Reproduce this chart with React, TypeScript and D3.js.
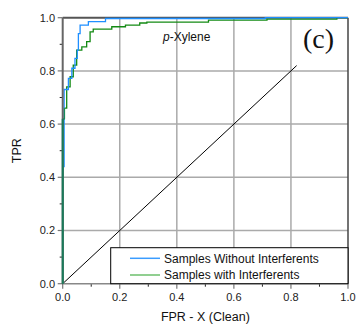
import React from "react";
import * as d3 from "d3";

const blueFpr = [0, 0, 0.005, 0.02, 0.032, 0.043, 0.051, 0.055, 0.061, 0.09, 0.15, 0.71, 1];
const blueTpr = [0, 0.44, 0.73, 0.772, 0.81, 0.847, 0.878, 0.94, 0.972, 0.985, 0.997, 1.0, 1];
const greenFpr = [0, 0, 0.006, 0.014, 0.026, 0.037, 0.049, 0.067, 0.084, 0.096, 0.107, 0.172, 0.22, 0.27, 0.295, 0.511, 0.716, 0.961, 1];
const greenTpr = [0, 0.62, 0.66, 0.74, 0.778, 0.822, 0.878, 0.89, 0.91, 0.947, 0.957, 0.966, 0.972, 0.98, 0.983, 0.991, 0.995, 1.0, 1];
const diagonal = [0, 0.82];
const majorTicks = [0, 0.2, 0.4, 0.6, 0.8, 1.0];
const minorTicks = [0.1, 0.3, 0.5, 0.7, 0.9];
const legendLabels = ["Samples Without Interferents", "Samples with Interferents"];
const seriesColors = ["#1f8fff", "#138a13"];
const legendColors = ["#3a9cff", "#6cbf6c"];

const W = 359, H = 327;
const L = 62.7, R = 348, T = 17.7, B = 283.7;

export default function App() {
  const x = d3.scaleLinear().domain([0, 1]).range([L, R]);
  const y = d3.scaleLinear().domain([0, 1]).range([B, T]);
  const line = d3.line<[number, number]>().x(d => x(d[0])).y(d => y(d[1])).curve(d3.curveStepAfter);
  const blue: [number, number][] = blueFpr.map((v, i) => [v, blueTpr[i]]);
  const green: [number, number][] = greenFpr.map((v, i) => [v, greenTpr[i]]);
  const font = "'Liberation Sans', Arial, sans-serif";
  const lgX = 110.7, lgY = 247.7;
  return (
    <svg width={W} height={H} style={{ position: "absolute", left: 0, top: 0, background: "#fff" }} fontFamily={font}>
      {/* grid */}
      {majorTicks.slice(1, 5).map(t => (
        <g key={"g" + t}>
          <line x1={x(t)} x2={x(t)} y1={T} y2={B} stroke="#aaa" strokeWidth={1.5} />
          <line x1={L} x2={R} y1={y(t)} y2={y(t)} stroke="#aaa" strokeWidth={1.5} />
        </g>
      ))}
      {/* ticks */}
      {majorTicks.map(t => (
        <g key={"mt" + t}>
          <line x1={L - 5} x2={L} y1={y(t)} y2={y(t)} stroke="#777" strokeWidth={1.2} />
          <line x1={x(t)} x2={x(t)} y1={B} y2={B + 5} stroke="#777" strokeWidth={1.2} />
          <text x={55} y={y(t)} dy="0.35em" textAnchor="end" fontSize={11} fill="#222">{t.toFixed(1)}</text>
          <text x={x(t)} y={B + 17} textAnchor="middle" fontSize={11} fill="#222">{t.toFixed(1)}</text>
        </g>
      ))}
      {minorTicks.map(t => (
        <g key={"mn" + t}>
          <line x1={L - 3} x2={L} y1={y(t)} y2={y(t)} stroke="#222" strokeWidth={1} />
          <line x1={x(t)} x2={x(t)} y1={B} y2={B + 3} stroke="#222" strokeWidth={1} />
        </g>
      ))}
      {/* diagonal */}
      <line x1={x(diagonal[0])} y1={y(diagonal[0])} x2={x(diagonal[1])} y2={y(diagonal[1])} stroke="#000" strokeWidth={1} />
      {/* frame */}
      <line x1={L} x2={R} y1={B} y2={B} stroke="#888" strokeWidth={1.5} />
      <line x1={L} x2={R} y1={T} y2={T} stroke="#555" strokeWidth={2} />
      <line x1={R} x2={R} y1={T} y2={B} stroke="#444" strokeWidth={1.5} />
      {/* curves */}
      <path d={line(green) || ""} fill="none" stroke={seriesColors[1]} strokeWidth={1.3} />
      <path d={line(blue) || ""} fill="none" stroke={seriesColors[0]} strokeWidth={1.3} />
      <path d={line(green.slice(0, 3)) || ""} fill="none" stroke={seriesColors[1]} strokeWidth={1.3} opacity={0.6} />
      <line x1={L} x2={L} y1={T} y2={B} stroke="#666" strokeWidth={2} />
      <line x1={L} x2={L} y1={y(0)} y2={y(0.62)} stroke="#1a7a5a" strokeWidth={2} />
      {/* legend */}
      <rect x={lgX} y={lgY} width={R - lgX} height={B - lgY} fill="#fff" stroke="#000" strokeWidth={1} />
      {legendLabels.map((lab, i) => (
        <g key={lab}>
          <line x1={130} x2={160} y1={258.3 + i * 16.7} y2={258.3 + i * 16.7} stroke={legendColors[i]} strokeWidth={1.5} />
          <text x={164} y={258.3 + i * 16.7} dy="0.36em" fontSize={12} fill="#111">{lab}</text>
        </g>
      ))}
      {/* labels */}
      <text x={163} y={41} fontSize={12} fill="#111"><tspan fontStyle="italic">p</tspan>-Xylene</text>
      <text x={303} y={47.5} fontSize={28} fontFamily="'Liberation Serif', 'Times New Roman', serif" fill="#111">(c)</text>
      <text x={(L + R) / 2} y={321} textAnchor="middle" fontSize={12.5} fill="#111">FPR - X (Clean)</text>
      <text transform={`translate(21,${(T + B) / 2}) rotate(-90)`} textAnchor="middle" fontSize={12.5} fill="#111">TPR</text>
    </svg>
  );
}
